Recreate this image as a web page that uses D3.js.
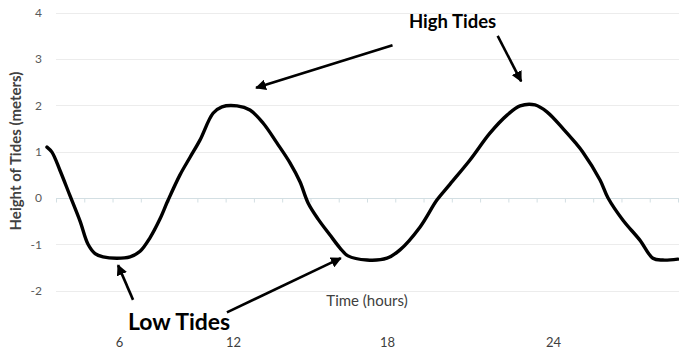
<!DOCTYPE html>
<html>
<head>
<meta charset="utf-8">
<script src="https://cdn.jsdelivr.net/npm/d3@7"></script>
<style>
  html, body { margin: 0; padding: 0; background: #fff; }
  svg { display: block; }
</style>
</head>
<body>
<div id="chart"></div>
<script>
// ---- data ----
const hours = [2.21, 2.47, 2.89, 3.42, 3.95, 4.37, 4.74, 5.16, 5.89, 6.58, 7.11, 7.63, 8.16, 8.58, 9.21, 9.74, 10.26, 10.95, 11.42, 12.16, 12.66, 13.17, 13.71, 14.22, 14.61, 14.92, 15.31, 15.78, 16.17, 16.48, 17.22, 18.0, 18.47, 19.19, 19.81, 20.28, 21.0, 21.72, 22.34, 22.81, 23.35, 23.78, 24.36, 24.80, 25.08, 25.70, 25.99, 26.53, 27.14, 27.61, 27.97, 28.51];
const heights = [1.10, 0.99, 0.60, 0.05, -0.50, -1.00, -1.20, -1.27, -1.30, -1.27, -1.15, -0.86, -0.45, -0.05, 0.50, 0.88, 1.25, 1.83, 1.97, 1.99, 1.90, 1.62, 1.19, 0.76, 0.35, -0.10, -0.45, -0.80, -1.08, -1.25, -1.34, -1.30, -1.12, -0.63, -0.04, 0.30, 0.82, 1.40, 1.79, 1.99, 2.01, 1.86, 1.50, 1.20, 0.99, 0.39, 0.0, -0.48, -0.91, -1.30, -1.34, -1.32];
const xTickLabels = [6, 12, 18, 24];
const yTicks = [-2, -1, 0, 1, 2, 3, 4];
const categoryCount = 22;
const yTitle = "Height of Tides (meters)";
const xTitle = "Time (hours)";
const highLabel = "High Tides";
const lowLabel = "Low Tides";
// annotation arrows: [fromHour, fromHeight, toHour, toHeight]
const highArrows = [[18.2, 3.3, 12.9, 2.38], [22.0, 3.5, 22.85, 2.52]];
const lowArrows = [[6.74, -2.2, 5.95, -1.45], [11.68, -2.47, 16.2, -1.3]];

// ---- layout ----
const W = 679, H = 356;
const plotLeft = 56, plotRight = 678;

const svg = d3.select("#chart").append("svg")
  .attr("width", W).attr("height", H);

const y = d3.scaleLinear().domain([-2, 4]).range([290.6, 12.8]);
const x = d3.scaleLinear().domain([6, 12, 18, 24]).range([119, 233, 387, 553]);
const xCat = d3.scaleLinear().domain([0, categoryCount]).range([plotLeft, plotRight]);

const font = "Lato, 'Open Sans', sans-serif";

// gridlines
svg.append("g").selectAll("line").data(yTicks.filter(d => d !== 0)).join("line")
  .attr("x1", plotLeft).attr("x2", W)
  .attr("y1", d => Math.round(y(d)) + 0.5).attr("y2", d => Math.round(y(d)) + 0.5)
  .attr("stroke", "#ececec").attr("stroke-width", 1);

// zero axis with category ticks
const xAxis = d3.axisBottom(xCat).tickValues(d3.range(0, categoryCount + 1)).tickSize(4).tickFormat("");
const gx = svg.append("g").attr("transform", `translate(0,${Math.round(y(0)) + 0.5})`).call(xAxis);
gx.select(".domain").attr("stroke", "#d3dfe3").attr("d", `M${plotLeft},0H${W}`);
gx.selectAll(".tick line").attr("stroke", "#d3dfe3");

// y tick labels
const yAxis = d3.axisLeft(y).tickValues(yTicks).tickSize(0).tickPadding(0).tickFormat(d3.format("d"));
const gy = svg.append("g").attr("transform", "translate(42,0)").call(yAxis);
gy.select(".domain").remove();
gy.selectAll("text").attr("font-family", font).attr("font-size", 12).attr("fill", "#595959")
  .text(d => d < 0 ? "-" + Math.abs(d) : d);

// x tick labels
const xAxisLabels = d3.axisBottom(x).tickValues(xTickLabels).tickSize(0).tickPadding(0);
const gxl = svg.append("g").attr("transform", "translate(0,338)").call(xAxisLabels);
gxl.select(".domain").remove();
gxl.selectAll("text").attr("font-family", font).attr("font-size", 13).attr("fill", "#404040");

// axis titles
svg.append("text").text(xTitle)
  .attr("x", 367).attr("y", 306).attr("text-anchor", "middle")
  .attr("font-family", font).attr("font-size", 15).attr("fill", "#404040");
svg.append("text").text(yTitle)
  .attr("transform", "translate(21,151) rotate(-90)").attr("text-anchor", "middle")
  .attr("font-family", font).attr("font-size", 15).attr("font-weight", "bold").attr("fill", "#404040");

// tide curve
const line = d3.line().x((d, i) => x(hours[i])).y(d => y(d)).curve(d3.curveCatmullRom.alpha(0.5));
svg.append("path").datum(heights)
  .attr("d", line)
  .attr("fill", "none").attr("stroke", "#000").attr("stroke-width", 3.4)
  .attr("stroke-linecap", "round").attr("stroke-linejoin", "round");

// arrows
svg.append("defs").append("marker")
  .attr("id", "ah").attr("viewBox", "0 0 10 10").attr("refX", 9).attr("refY", 5)
  .attr("markerWidth", 4.2).attr("markerHeight", 4.2).attr("orient", "auto")
  .append("path").attr("d", "M0,0L10,5L0,10Z").attr("fill", "#000");

svg.append("g").selectAll("line").data(highArrows.concat(lowArrows)).join("line")
  .attr("x1", d => x(d[0])).attr("y1", d => y(d[1]))
  .attr("x2", d => x(d[2])).attr("y2", d => y(d[3]))
  .attr("stroke", "#000").attr("stroke-width", 2.6)
  .attr("marker-end", "url(#ah)");

// annotation labels
svg.append("text").text(highLabel)
  .attr("x", 409).attr("y", 28)
  .attr("font-family", font).attr("font-size", 18.5).attr("font-weight", "bold").attr("fill", "#000");
svg.append("text").text(lowLabel)
  .attr("x", 128).attr("y", 330)
  .attr("font-family", font).attr("font-size", 23).attr("font-weight", "bold").attr("fill", "#000");
</script>
</body>
</html>
